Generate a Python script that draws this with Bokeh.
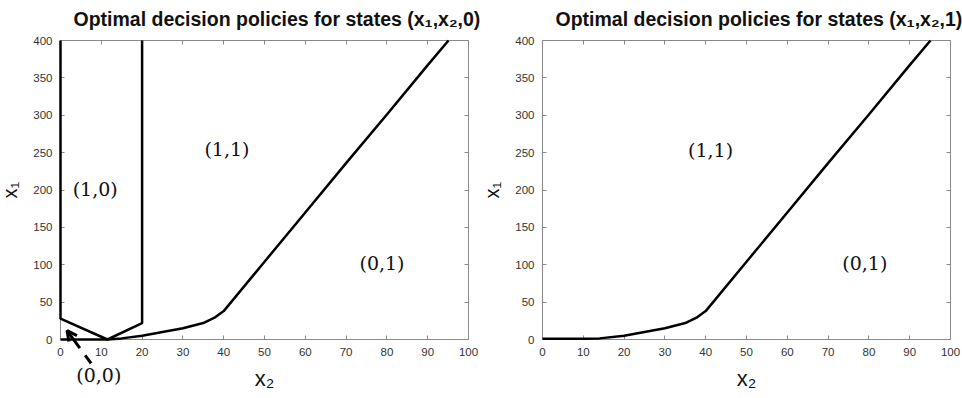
from bokeh.plotting import figure
from bokeh.layouts import row
from bokeh.models import (Range1d, LinearAxis, Label, Arrow, OpenHead, SingleIntervalTicker,
                          CustomJSTickFormatter)
from bokeh.embed import file_html
from bokeh.resources import INLINE

# ---- data ----
# left panel: states (x1, x2, 0)
left_region_x = [0, 0, 11.5, 20, 20]
left_region_y = [400, 28, 0, 22, 400]
left_base_x = [0, 11.5]
left_base_y = [0, 0]
left_curve_x = [11.5, 15, 20, 25, 30, 35, 38, 40, 50, 60, 70, 80, 90, 95.1]
left_curve_y = [0, 1.5, 5, 10, 15, 22, 30, 38, 104, 170, 236, 301, 367, 400]
# right panel: states (x1, x2, 1)
right_curve_x = [0, 10, 14, 20, 25, 30, 35, 38, 40, 50, 60, 70, 80, 90, 95.1]
right_curve_y = [1, 1, 1.5, 5, 10, 15, 22, 30, 38, 104, 170, 236, 301, 367, 400]

left_labels = ["(1,0)", "(1,1)", "(0,1)"]
left_label_x = [8.5, 40.8, 78.8]
left_label_y = [202, 255, 102]
right_labels = ["(1,1)", "(0,1)"]
right_label_x = [41.2, 79.0]
right_label_y = [254, 102]
zero_label = "(0,0)"
zero_label_pos = (9.4, -47)
arrow_start = (7.5, -32)
arrow_end = (1.6, 12)

titles = ["Optimal decision policies for states (x\u2081,x\u2082,0)",
          "Optimal decision policies for states (x\u2081,x\u2082,1)"]
xlabel = "x\u2082"
ylabel = "x\u2081"
x_bounds = (0, 100)
y_bounds = (0, 400)

AX = "#8a8a8a"
TICKTXT = "#333333"


def make_fig(title, width, xr, title_offset):
    p = figure(frame_width=width, frame_height=368, output_backend="svg", toolbar_location=None,
               x_range=Range1d(*xr), y_range=Range1d(-78.93, 413.38),
               min_border_left=0, min_border_right=0, min_border_top=30, min_border_bottom=0,
               title=title)
    p.title.align = "left"
    p.title.offset = title_offset
    p.title.text_font = "Liberation Sans"
    p.title.text_font_style = "bold"
    p.title.text_font_size = "19.5px"
    p.title.text_color = "#111111"
    p.title.standoff = 2
    p.xgrid.visible = False
    p.ygrid.visible = False
    p.outline_line_color = None
    p.xaxis.ticker = SingleIntervalTicker(interval=10)
    p.yaxis.ticker = SingleIntervalTicker(interval=50)
    p.xaxis.fixed_location = 0
    p.yaxis.fixed_location = 0
    p.xaxis.bounds = x_bounds
    p.yaxis.bounds = y_bounds
    for ax in (p.xaxis[0], p.yaxis[0]):
        ax.axis_line_color = AX
        ax.major_tick_line_color = AX
        ax.major_tick_in = 4
        ax.major_tick_out = 0
        ax.minor_tick_line_color = None
        ax.major_label_text_font = "Liberation Sans"
        ax.major_label_text_font_size = "11.5px"
        ax.major_label_text_color = TICKTXT
        ax.major_label_standoff = 4
        ax.axis_label_text_font = "Liberation Sans"
        ax.axis_label_text_font_style = "normal"
        ax.axis_label_text_color = "#111111"
    p.xaxis.axis_label = xlabel
    p.yaxis.axis_label = ylabel
    p.xaxis.axis_label_text_font_size = "22px"
    p.yaxis.axis_label_text_font_size = "20px"
    p.xaxis.axis_label_standoff = 7
    p.yaxis.axis_label_standoff = 9
    # mirrored box edges with inward ticks
    blank = CustomJSTickFormatter(code="return ''")
    top = LinearAxis(ticker=SingleIntervalTicker(interval=10), formatter=blank, fixed_location=400,
                     bounds=x_bounds, axis_line_color=AX, major_tick_line_color=AX, major_tick_in=4,
                     major_tick_out=0, minor_tick_line_color=None)
    right = LinearAxis(ticker=SingleIntervalTicker(interval=50), formatter=blank, fixed_location=100,
                       bounds=y_bounds, axis_line_color=AX, major_tick_line_color=AX, major_tick_in=4,
                       major_tick_out=0, minor_tick_line_color=None)
    p.add_layout(top, "above")
    p.add_layout(right, "right")
    return p


def add_label(p, t, x, y):
    p.add_layout(Label(x=x, y=y, text=t, text_font="DejaVu Serif", text_font_size="19px",
                       text_align="center", text_baseline="middle", text_color="#111111"))


def add_line(p, xs, ys):
    r = p.line(xs, ys, line_color="black", line_width=2.5)
    r.level = "overlay"


p1 = make_fig(titles[0], 480, (-14.706, 102.94), 73)
add_line(p1, left_region_x, left_region_y)
add_line(p1, left_base_x, left_base_y)
add_line(p1, left_curve_x, left_curve_y)
for t, x, y in zip(left_labels, left_label_x, left_label_y):
    add_label(p1, t, x, y)
add_label(p1, zero_label, zero_label_pos[0], zero_label_pos[1])
p1.add_layout(Arrow(x_start=arrow_start[0], y_start=arrow_start[1], x_end=arrow_end[0], y_end=arrow_end[1],
                    line_color="black", line_width=3, line_dash="10 9 30",
                    end=OpenHead(size=10, line_width=3, line_color="black")))

p2 = make_fig(titles[1], 482, (-15.196, 102.94), 75)
add_line(p2, right_curve_x, right_curve_y)
for t, x, y in zip(right_labels, right_label_x, right_label_y):
    add_label(p2, t, x, y)

layout = row(p1, p2)
open("out.html", "w").write(file_html(layout, INLINE))
